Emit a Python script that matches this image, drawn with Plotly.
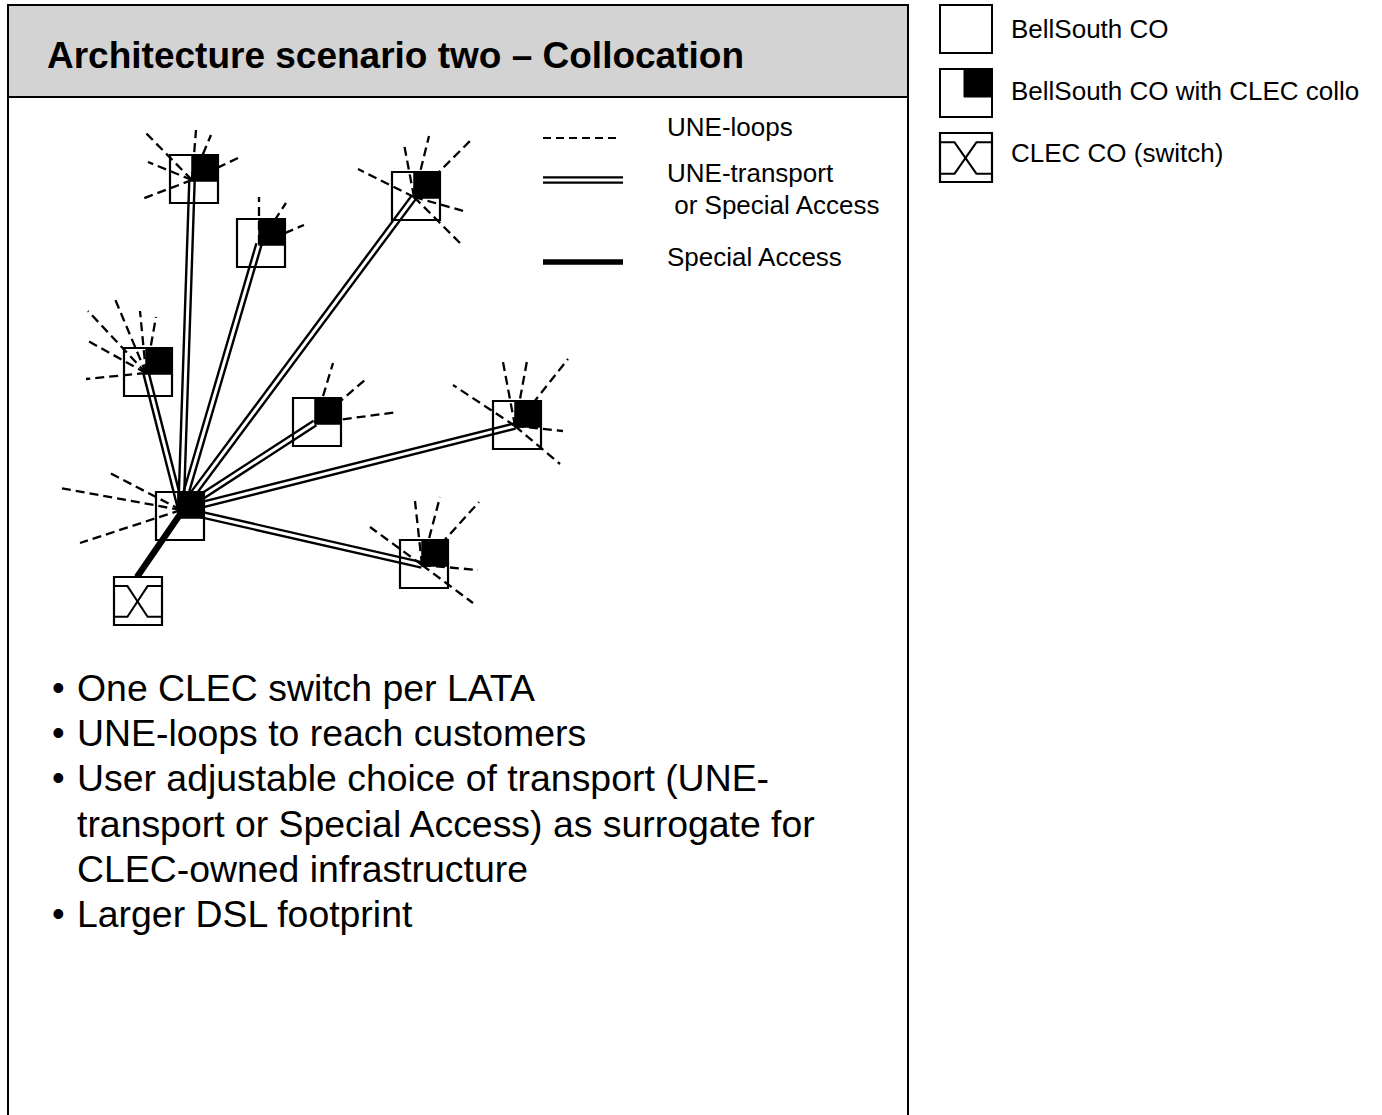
import math
import plotly.graph_objects as go

W, H = 1382, 1115
FONT = "Liberation Sans, Arial, Helvetica, sans-serif"

# ---------------- data ----------------
# BellSouth COs with CLEC collocation: box top-left (page px)
co_names = ["CO1", "CO2", "CO3", "CO4", "CO5", "CO6", "CO7"]
co_left = [170, 237, 392, 124, 293, 493, 400]
co_top = [155, 219, 172, 348, 398, 401, 540]
hub_left, hub_top = 156, 492          # hub CO (collocated) next to CLEC switch
switch_left, switch_top = 114, 577    # CLEC CO (switch)

# UNE-loop end points radiating from each CO
loops_co1 = [(143, 130), (196, 130), (211, 135), (240, 157), (148, 162), (142, 199)]
loops_co2 = [(259, 197), (286, 203), (304, 225)]
loops_co3 = [(358, 169), (404, 144), (429, 136), (470, 141), (467, 212), (462, 245)]
loops_co4 = [(88, 311), (115, 299), (140, 311), (156, 317), (88, 341), (86, 379)]
loops_co5 = [(333, 363), (366, 379), (398, 412)]
loops_co6 = [(453, 385), (503, 362), (527, 361), (568, 359), (563, 431), (560, 464)]
loops_co7 = [(370, 527), (415, 501), (440, 497), (479, 502), (478, 570), (473, 603)]
loops_hub = [(108, 472), (60, 488), (80, 543)]

title_text = "Architecture scenario two \u2013 Collocation"
line_legend_labels = ["UNE-loops", "UNE-transport", " or Special Access", "Special Access"]
symbol_legend_labels = ["BellSouth CO", "BellSouth CO with CLEC collo", "CLEC CO (switch)"]
bullet_lines = [
    ("\u2022", "One CLEC switch per LATA"),
    ("\u2022", "UNE-loops to reach customers"),
    ("\u2022", "User adjustable choice of transport (UNE-"),
    ("", "transport or Special Access) as surrogate for"),
    ("", "CLEC-owned infrastructure"),
    ("\u2022", "Larger DSL footprint"),
]

# ---------------- geometry helpers ----------------
BOX = 48
COLLO = 26


def attach(left, top):
    return (left + 22, top + 25)


hub_pt = (181, 510)
all_loops = [loops_co1, loops_co2, loops_co3, loops_co4, loops_co5, loops_co6, loops_co7]

fig = go.Figure()
shapes = []
annotations = []

# frame and header
shapes.append(dict(type="rect", xref="x", yref="y", x0=8, y0=5, x1=908, y1=97,
                   fillcolor="#d3d3d3", line=dict(color="black", width=2), layer="below"))
shapes.append(dict(type="rect", xref="x", yref="y", x0=8, y0=5, x1=908, y1=1130,
                   fillcolor="rgba(0,0,0,0)", line=dict(color="black", width=2), layer="below"))

# CO boxes
for l, t in list(zip(co_left, co_top)) + [(hub_left, hub_top)]:
    shapes.append(dict(type="rect", xref="x", yref="y", x0=l, y0=t, x1=l + BOX, y1=t + BOX,
                       fillcolor="rgba(0,0,0,0)", line=dict(color="black", width=2.2), layer="below"))
    shapes.append(dict(type="rect", xref="x", yref="y", x0=l + 22, y0=t, x1=l + BOX, y1=t + COLLO,
                       fillcolor="black", line=dict(color="black", width=1.5), layer="above"))


def switch_shapes(l, t, w, h):
    out = []
    out.append(dict(type="rect", xref="x", yref="y", x0=l, y0=t, x1=l + w, y1=t + h,
                    fillcolor="white", line=dict(color="black", width=2.2), layer="above"))
    ya = t + 0.19 * h
    yb = t + 0.83 * h
    xa = l + 0.28 * w
    xb = l + 0.70 * w
    p1 = f"M {l},{ya} L {xa},{ya} L {xb},{yb} L {l + w},{yb}"
    p2 = f"M {l + w},{ya} L {xb},{ya} L {xa},{yb} L {l},{yb}"
    for p in (p1, p2):
        out.append(dict(type="path", xref="x", yref="y", path=p,
                        line=dict(color="black", width=2), layer="above"))
    return out


shapes += switch_shapes(switch_left, switch_top, BOX, BOX)

# UNE loops (dashed)
lx, ly = [], []
for (l, t), ends in zip(zip(co_left, co_top), all_loops):
    ax, ay = attach(l, t)
    for ex, ey in ends:
        lx += [ax, ex, None]
        ly += [ay, ey, None]
for ex, ey in loops_hub:
    lx += [hub_pt[0], ex, None]
    ly += [hub_pt[1], ey, None]
fig.add_trace(go.Scatter(x=lx, y=ly, mode="lines", hoverinfo="skip",
                         line=dict(color="black", width=2.3, dash="9px,5px")))

# UNE transport / special access (double lines)
OFF = 2.7
tx, ty = [], []
for l, t in zip(co_left, co_top):
    ax, ay = attach(l, t)
    dx, dy = ax - hub_pt[0], ay - hub_pt[1]
    n = math.hypot(dx, dy)
    px, py = -dy / n * OFF, dx / n * OFF
    for s in (1, -1):
        tx += [hub_pt[0] + s * px, ax + s * px, None]
        ty += [hub_pt[1] + s * py, ay + s * py, None]
fig.add_trace(go.Scatter(x=tx, y=ty, mode="lines", hoverinfo="skip",
                         line=dict(color="black", width=2.4)))

# Special access (thick) hub -> switch
fig.add_trace(go.Scatter(x=[hub_pt[0], switch_left + 23], y=[hub_pt[1] + 3, switch_top],
                         mode="lines", hoverinfo="skip", line=dict(color="black", width=6.5)))

# line legend inside panel
fig.add_trace(go.Scatter(x=[543, 620], y=[138, 138], mode="lines", hoverinfo="skip",
                         line=dict(color="black", width=2, dash="8px,5px")))
fig.add_trace(go.Scatter(x=[543, 623, None, 543, 623], y=[177.3, 177.3, None, 182.7, 182.7],
                         mode="lines", hoverinfo="skip", line=dict(color="black", width=2.3)))
fig.add_trace(go.Scatter(x=[543, 623], y=[262, 262], mode="lines", hoverinfo="skip",
                         line=dict(color="black", width=5.5)))
for lab, y in zip(line_legend_labels, [127, 173, 205, 257]):
    annotations.append(dict(x=665, y=y, xref="x", yref="y",
                            text=lab.replace(" ", "&nbsp;", 1) if lab.startswith(" ") else lab,
                            showarrow=False, xanchor="left", yanchor="middle",
                            font=dict(family=FONT, size=26, color="black")))

# symbol legend (top right)
shapes.append(dict(type="rect", xref="x", yref="y", x0=940, y0=5, x1=992, y1=53,
                   fillcolor="rgba(0,0,0,0)", line=dict(color="black", width=2), layer="above"))
shapes.append(dict(type="rect", xref="x", yref="y", x0=940, y0=69, x1=992, y1=117,
                   fillcolor="rgba(0,0,0,0)", line=dict(color="black", width=2), layer="above"))
shapes.append(dict(type="rect", xref="x", yref="y", x0=964, y0=69, x1=992, y1=97,
                   fillcolor="black", line=dict(color="black", width=1), layer="above"))
shapes += switch_shapes(940, 133, 52, 49)
for lab, y in zip(symbol_legend_labels, [29, 91, 153]):
    annotations.append(dict(x=1009, y=y, xref="x", yref="y", text=lab, showarrow=False,
                            xanchor="left", yanchor="middle",
                            font=dict(family=FONT, size=26, color="black")))

# title
annotations.append(dict(x=45, y=55, xref="x", yref="y", text="<b>" + title_text + "</b>",
                        showarrow=False, xanchor="left", yanchor="middle",
                        font=dict(family=FONT, size=37, color="black")))

# bullets
for i, (b, txt) in enumerate(bullet_lines):
    y = 688 + i * 45.2
    if b:
        annotations.append(dict(x=50, y=y - 1, xref="x", yref="y", text=b, showarrow=False,
                                xanchor="left", yanchor="middle",
                                font=dict(family=FONT, size=36, color="black")))
    annotations.append(dict(x=75, y=y, xref="x", yref="y", text=txt, showarrow=False,
                            xanchor="left", yanchor="middle",
                            font=dict(family=FONT, size=37.4, color="black")))

fig.update_layout(
    width=W, height=H, margin=dict(l=0, r=0, t=0, b=0),
    paper_bgcolor="white", plot_bgcolor="white",
    showlegend=False, hovermode=False,
    shapes=shapes, annotations=annotations,
    xaxis=dict(range=[0, W], visible=False, fixedrange=True),
    yaxis=dict(range=[H, 0], visible=False, fixedrange=True),
)

fig.write_html("out.html", config={"displayModeBar": False},
               post_script="document.body.style.margin='0';document.body.style.overflow='hidden';")
